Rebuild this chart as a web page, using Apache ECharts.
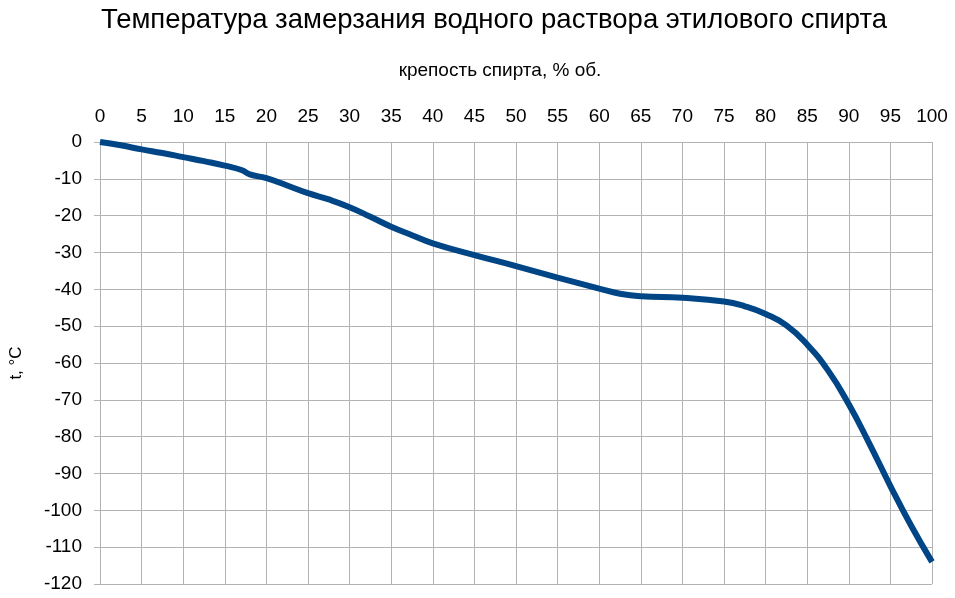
<!DOCTYPE html>
<html>
<head>
<meta charset="utf-8">
<script src="https://cdn.jsdelivr.net/npm/echarts@6/dist/echarts.min.js"></script>
<style>
html,body{margin:0;padding:0;background:#fff;}
#chart{width:955px;height:598px;}
</style>
</head>
<body>
<div id="chart"></div>
<script>
const titleText = 'Температура замерзания водного раствора этилового спирта';
const xName = 'крепость спирта, % об.';
const yName = 't, °C';
const strength = [0, 2.5, 5, 7.5, 10, 12.5, 15, 17, 18, 20, 22.5, 25, 27.5, 30, 32.5, 35, 37.5, 40, 45, 50, 55, 60, 62.5, 65, 70, 75, 77.5, 80, 82.5, 85, 87.5, 90, 92.5, 95, 97.5, 100];
const temperature = [0, -0.9, -2, -3, -4.1, -5.2, -6.4, -7.6, -8.8, -9.8, -11.8, -13.9, -15.6, -17.7, -20.3, -23.0, -25.3, -27.5, -30.7, -33.7, -36.8, -39.8, -41.2, -41.9, -42.3, -43.3, -44.6, -46.7, -49.8, -55.0, -62.0, -71.2, -82.0, -93.4, -104.2, -114];

const seriesData = strength.map((x, i) => [x, temperature[i]]);
const font = '"Liberation Sans", Arial, sans-serif';
const chart = echarts.init(document.getElementById('chart'));
chart.setOption({
  animation: false,
  backgroundColor: '#fff',
  textStyle: { fontFamily: font },
  title: {
    text: titleText,
    left: 489, top: 1, textAlign: 'center',
    textStyle: { fontSize: 27.5, fontWeight: 'normal', color: '#000', fontFamily: font }
  },
  grid: { left: 99, right: 23, top: 142, bottom: 14, containLabel: false },
  xAxis: {
    type: 'value', position: 'top', min: 0, max: 100, interval: 5,
    name: xName, nameLocation: 'middle', nameGap: 62,
    nameTextStyle: { fontSize: 19, color: '#000', fontFamily: font, padding: [0, 32, 0, 0] },
    axisLine: { show: true, lineStyle: { color: '#b3b3b3', width: 1 } },
    axisTick: { show: false },
    axisLabel: { fontSize: 19, color: '#000', margin: 16, fontFamily: font },
    splitLine: { show: true, lineStyle: { color: '#b3b3b3', width: 1 } }
  },
  yAxis: {
    type: 'value', min: -120, max: 0, interval: 10,
    name: yName, nameLocation: 'middle', nameGap: 75, nameRotate: 90,
    nameTextStyle: { fontSize: 17, color: '#000', fontFamily: font },
    axisLine: { show: true, lineStyle: { color: '#b3b3b3', width: 1 } },
    axisTick: { show: true, length: 6, lineStyle: { color: '#b3b3b3', width: 1 } },
    axisLabel: { fontSize: 19, color: '#000', margin: 18, fontFamily: font },
    splitLine: { show: true, lineStyle: { color: '#b3b3b3', width: 1 } }
  },
  series: [{
    type: 'line', data: seriesData, smooth: 0.5, showSymbol: false,
    lineStyle: { color: '#004586', width: 6 },
    itemStyle: { color: '#004586' }
  }]
});
</script>
</body>
</html>
